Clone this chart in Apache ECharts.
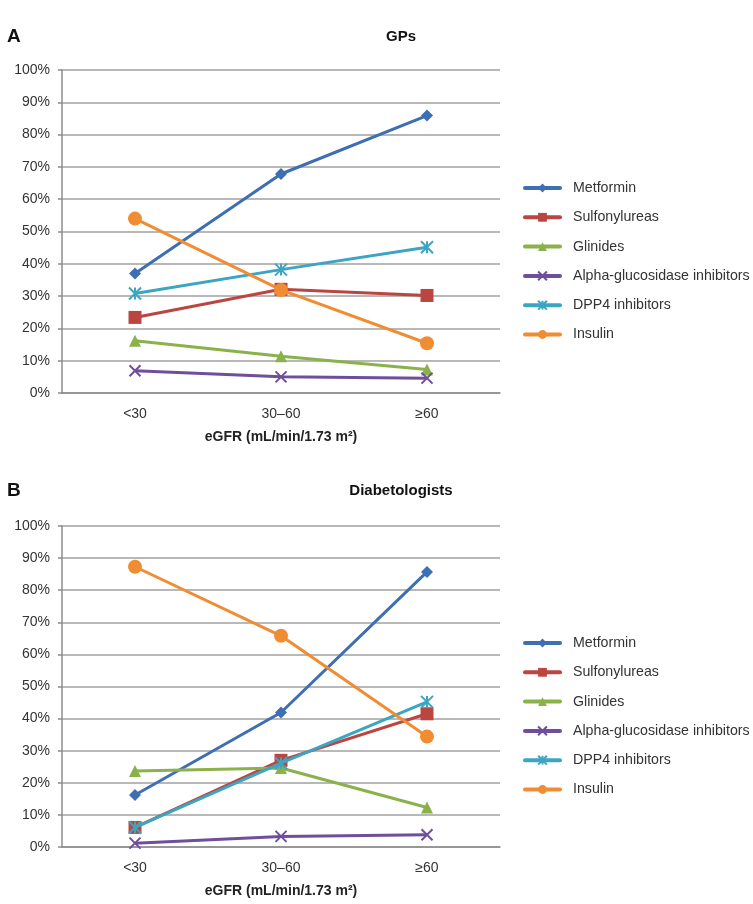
<!DOCTYPE html>
<html><head><meta charset="utf-8">
<script src="https://cdn.jsdelivr.net/npm/echarts@6/dist/echarts.min.js"></script>
<style>html,body{margin:0;padding:0;background:#fff}#c{width:753px;height:904px}</style>
</head><body><div id="c"></div>
<script>
const categories = ['<30', '30\u201360', '\u226560'];
const seriesNames = ['Metformin', 'Sulfonylureas', 'Glinides', 'Alpha-glucosidase inhibitors', 'DPP4 inhibitors', 'Insulin'];
const yTicks = [0, 10, 20, 30, 40, 50, 60, 70, 80, 90, 100];
// Panel A: GPs
const gpMetformin = [37.0, 67.8, 85.9];
const gpSulfonylureas = [23.4, 32.1, 30.2];
const gpGlinides = [16.2, 11.4, 7.3];
const gpAlpha = [6.9, 5.0, 4.6];
const gpDPP4 = [30.8, 38.2, 45.1];
const gpInsulin = [54.0, 31.9, 15.4];
// Panel B: Diabetologists
const dbMetformin = [16.2, 41.9, 85.7];
const dbSulfonylureas = [6.1, 27.0, 41.5];
const dbGlinides = [23.7, 24.6, 12.3];
const dbAlpha = [1.2, 3.3, 3.8];
const dbDPP4 = [6.1, 26.1, 45.2];
const dbInsulin = [87.3, 65.8, 34.4];

const colors = ['#3E6FB3', '#BB4541', '#8BB14A', '#6F4E9C', '#3BA5C2', '#F08C32'];
const symbols = ['diamond', 'rect', 'triangle', 'path://M0,0L10,10M10,0L0,10', 'path://M0,0L10,10M10,0L0,10M5,0L5,10', 'circle'];
const sizes = [12, 13, 12, 11, 12, 14];
const gpData = [gpMetformin, gpSulfonylureas, gpGlinides, gpAlpha, gpDPP4, gpInsulin];
const dbData = [dbMetformin, dbSulfonylureas, dbGlinides, dbAlpha, dbDPP4, dbInsulin];

const FONT = '"Liberation Sans", Arial, sans-serif';
const chart = echarts.init(document.getElementById('c'), null, {renderer: 'canvas'});

function mkSeries(data, idx) {
  return data.map((d, i) => {
    const isPath = symbols[i].startsWith('path');
    return {
      name: seriesNames[i], type: 'line', xAxisIndex: idx, yAxisIndex: idx,
      data: d, symbol: symbols[i], symbolSize: sizes[i], showAllSymbol: true,
      lineStyle: {color: colors[i], width: 3},
      itemStyle: {color: isPath ? 'none' : colors[i], borderColor: colors[i], borderWidth: isPath ? 2 : 0},
      emphasis: {disabled: true}, animation: false, z: 2 + i
    };
  });
}
function xAx(idx) {
  return {
    type: 'category', gridIndex: idx, data: categories, boundaryGap: true,
    axisLine: {lineStyle: {color: '#8c8c8c', width: 1.5}},
    axisTick: {show: false},
    axisLabel: {color: '#333', fontSize: 14, fontFamily: FONT, margin: 14},
    name: 'eGFR (mL/min/1.73 m\u00b2)', nameLocation: 'middle', nameGap: 37,
    nameTextStyle: {color: '#222', fontSize: 14, fontWeight: 'bold', fontFamily: FONT}
  };
}
function yAx(idx) {
  return {
    type: 'value', gridIndex: idx, min: 0, max: 100, interval: 10,
    axisLine: {show: true, lineStyle: {color: '#8c8c8c', width: 1.5}},
    axisTick: {show: true, length: 4, lineStyle: {color: '#8c8c8c', width: 1.5}},
    axisLabel: {color: '#333', fontSize: 14, fontFamily: FONT, margin: 12, formatter: v => v + '%'},
    splitLine: {show: true, lineStyle: {color: '#a0a0a0', width: 1.5}}
  };
}
function legends(firstCenter) {
  return seriesNames.map((n, i) => ({
    orient: 'vertical', left: 523, top: firstCenter + i * 29.3 - 7, itemWidth: 35, itemHeight: 11,
    data: [n], selectedMode: false, padding: 0,
    lineStyle: {width: 4, cap: 'round'},
    textStyle: {color: '#333', fontSize: 14.2, fontFamily: FONT, padding: [0, 0, 0, 8], lineHeight: 16}
  }));
}
chart.setOption({
  animation: false,
  title: [
    {text: 'A', left: 2, top: 22, textStyle: {fontSize: 19, fontWeight: 'bold', color: '#111', fontFamily: FONT}},
    {text: 'GPs', left: 396, top: 24, textAlign: 'center', textStyle: {fontSize: 15, fontWeight: 'bold', color: '#111', fontFamily: FONT}},
    {text: 'B', left: 2, top: 476, textStyle: {fontSize: 19, fontWeight: 'bold', color: '#111', fontFamily: FONT}},
    {text: 'Diabetologists', left: 396, top: 478, textAlign: 'center', textStyle: {fontSize: 15, fontWeight: 'bold', color: '#111', fontFamily: FONT}}
  ],
  grid: [
    {left: 62, top: 70, width: 438, height: 323},
    {left: 62, top: 526, width: 438, height: 321}
  ],
  xAxis: [xAx(0), xAx(1)],
  yAxis: [yAx(0), yAx(1)],
  legend: legends(187).concat(legends(642)),
  series: mkSeries(gpData, 0).concat(mkSeries(dbData, 1))
});
</script></body></html>
